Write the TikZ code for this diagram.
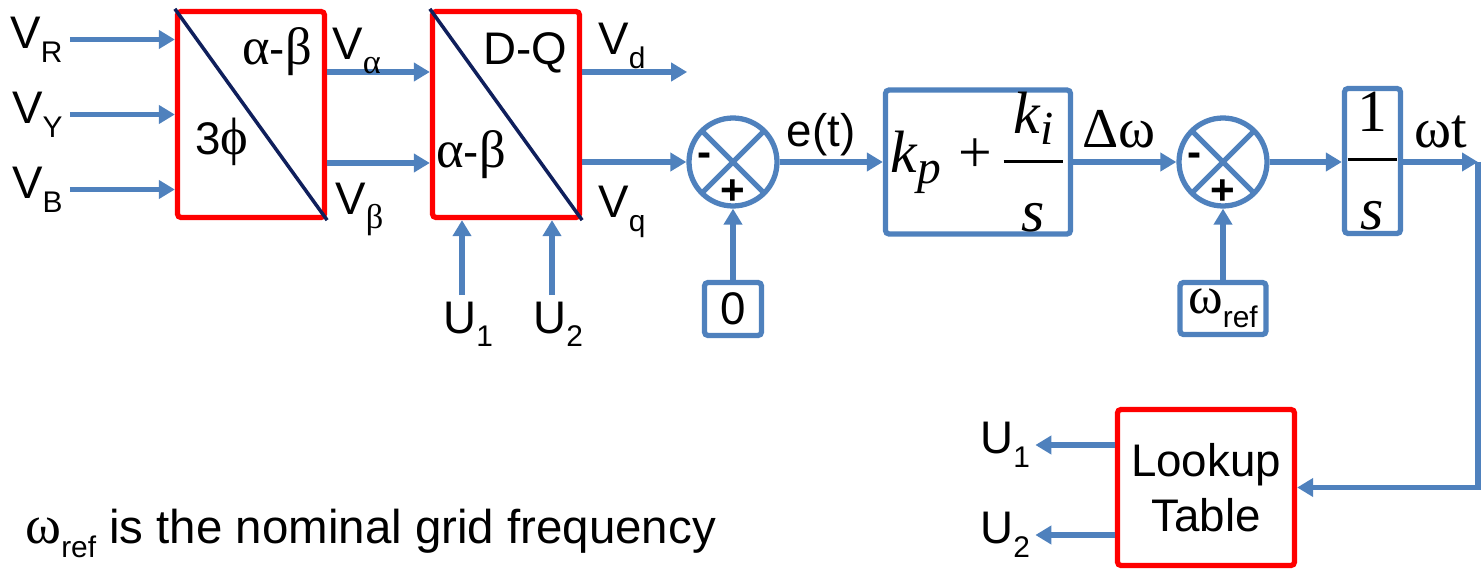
\documentclass[tikz,border=0pt]{standalone}
\usepackage{fontspec}
\setmainfont{Liberation Sans}
\newfontfamily\grk[Scale=1.15]{Liberation Serif}
\newfontfamily\mathserif{Liberation Serif}
\usetikzlibrary{arrows.meta,positioning,calc}
\definecolor{flowblue}{HTML}{4F81BD}
\definecolor{blockred}{HTML}{FF0000}
\definecolor{diagnavy}{HTML}{0F1F5C}
\newcommand\lowsub[1]{\raisebox{-0.3em}{\fontsize{17}{17}\selectfont #1}}
\newcommand\mathsub[1]{\raisebox{-0.18em}{\fontsize{27}{27}\selectfont\itshape #1}}
\newcommand\numer[1]{\mbox{\mathserif #1\rule[-0.3em]{0pt}{0pt}}}
\newcommand\denom[1]{\mbox{\mathserif\rule{0pt}{1.0em}#1}}
\newcommand\thickfrac[2]{$\displaystyle{\numer{#1}\above 1.6pt\denom{#2}}$}
\tikzset{
  blockbox/.style={draw=blockred, line width=3pt, rounded corners=2pt, align=center, inner sep=0pt, minimum width=2.94cm, minimum height=4.12cm},
  ctrlbox/.style={draw=flowblue, line width=3pt, rounded corners=2pt, align=center, inner sep=0pt},
  sumnode/.style={draw=flowblue, line width=3pt, circle, inner sep=0pt, minimum size=1.76cm},
  flow/.style={-{Triangle[length=0.32cm,width=0.36cm]}, draw=flowblue, line width=3pt},
  wire/.style={draw=flowblue, line width=3pt},
  diag/.style={draw=diagnavy, line width=2pt},
  lbl/.style={font=\fontsize{26}{31}\selectfont, inner sep=0pt},
  biglbl/.style={font=\fontsize{32}{36}\selectfont\mathserif, inner sep=0pt},
  mathtxt/.style={font=\fontsize{34}{38}\selectfont\mathserif},
  sign/.style={font=\fontsize{24}{24}\selectfont\bfseries, inner sep=0pt}
}
\begin{document}
\begin{tikzpicture}
  \useasboundingbox (0,0) rectangle (29.68,-11.44);

  % abc -> alpha-beta -> d-q
  \node[blockbox] (tri1) at (5.02,-2.29) {};
  \node[blockbox] (tri2) at (10.12,-2.29) {};
  \draw[diag] (tri1.north west) -- (tri1.south east);
  \draw[diag] (tri2.north west) -- (tri2.south east);
  \node[lbl, anchor=base] (ab1) at (5.54,-1.3) {{\grk α}-{\grk β}};
  \node[lbl, anchor=base] (ph) at (4.44,-3.1) {3{\grk ϕ}};
  \node[lbl, anchor=base] (dq) at (10.5,-1.3) {D-Q};
  \node[lbl, anchor=base] (ab2) at (9.42,-3.36) {{\grk α}-{\grk β}};

  \foreach \ph/\dy in {R/1.5, Y/0, B/-1.5} {
    \coordinate (in\ph) at ($(tri1.west)+(-2.1,\dy)$);
    \draw[flow] (in\ph) -- ($(tri1.west)+(0,\dy)$);
    \node[lbl, left=0.14cm of in\ph] (v\ph) {V\lowsub{\ph}};
  }

  \draw[flow] ($(tri1.east)+(0,0.85)$) -- ($(tri2.west)+(0,0.85)$);
  \draw[flow] ($(tri1.east)+(0,-0.97)$) -- ($(tri2.west)+(0,-0.97)$);
  \node[lbl, anchor=base west] (valpha) at (6.64,-1.2) {V\lowsub{\grk α}};
  \node[lbl, anchor=base west] (vbeta) at (6.7,-4.3) {V\lowsub{\grk β}};

  \foreach \u/\dx in {1/-0.88, 2/0.92} {
    \coordinate (uin\u) at ($(tri2.south)+(\dx,-1.5)$);
    \draw[flow] (uin\u) -- ($(tri2.south)+(\dx,0)$);
    \node[lbl, anchor=base west] (ui\u) at ($(uin\u)+(-0.38,-0.76)$) {U\lowsub{\u}};
  }

  % phase detector and PI
  \node[sumnode] (sum1) at (14.66,-3.24) {};
  \draw[wire, shorten <=1.5pt, shorten >=1.5pt] (sum1.north west) -- (sum1.south east);
  \draw[wire, shorten <=1.5pt, shorten >=1.5pt] (sum1.north east) -- (sum1.south west);
  \node[sign] (m1) at ($(sum1)+(-0.56,0.04)$) {-};
  \node[sign] (p1) at ($(sum1)+(0,-0.6)$) {+};

  \coordinate (vdout) at ($(tri2.east)+(2.1,0.85)$);
  \draw[flow] ($(tri2.east)+(0,0.85)$) -- (vdout);
  \draw[flow] (tri2.east |- sum1) -- (sum1.west);
  \node[lbl, anchor=base west] (vd) at (11.96,-1.1) {V\lowsub{d}};
  \node[lbl, anchor=base west] (vq) at (11.96,-4.36) {V\lowsub{q}};

  \node[ctrlbox, lbl, minimum width=1.14cm, minimum height=1.06cm] (zero) at (14.66,-6.18) {0};
  \draw[flow] (zero) -- (sum1);

  \node[ctrlbox, mathtxt, minimum width=3.7cm, minimum height=2.88cm] (pi) at (19.56,-3.24)
    {\itshape k\mathsub{p}\hspace{0.3em}\upshape+\hspace{0.15em}\thickfrac{\itshape\,k\mathsub{i}\,}{\itshape s}};
  \draw[flow] (sum1) -- (pi);
  \node[lbl, anchor=base] (err) at (16.42,-2.94) {e(t)};

  % frequency correction and integrator
  \node[sumnode] (sum2) at (24.46,-3.24) {};
  \draw[wire, shorten <=1.5pt, shorten >=1.5pt] (sum2.north west) -- (sum2.south east);
  \draw[wire, shorten <=1.5pt, shorten >=1.5pt] (sum2.north east) -- (sum2.south west);
  \node[sign] (m2) at ($(sum2)+(-0.56,0.04)$) {-};
  \node[sign] (p2) at ($(sum2)+(0,-0.6)$) {+};
  \draw[flow] (pi) -- (sum2);
  \node[biglbl, anchor=base] (dw) at (22.38,-2.96) {Δω};

  \node[ctrlbox, lbl, minimum width=1.72cm, minimum height=1.04cm] (wref) at (24.46,-6.17) {{\grk ω}\lowsub{ref}};
  \draw[flow] (wref) -- (sum2);

  \node[ctrlbox, mathtxt, minimum width=1.12cm, minimum height=2.9cm] (integ) at (27.45,-3.22)
    {\thickfrac{\,1\,}{\itshape s}};
  \draw[flow] (sum2) -- (sum2 -| integ.west);
  \node[biglbl, anchor=base] (wt) at (28.82,-2.96) {ωt};

  % lookup table feedback
  \node[blockbox, lbl, minimum width=3.54cm, minimum height=3.12cm] (lut) at (24.12,-9.75) {Lookup\\Table};
  \coordinate (bend) at (29.56,-3.24);
  \draw[flow] (integ.east |- sum2) -- (bend);
  \draw[flow] (bend) -- (bend |- lut.east) -- (lut.east);

  \foreach \u/\dy in {1/0.85, 2/-0.95} {
    \coordinate (uout\u) at ($(lut.west)+(-1.59,\dy)$);
    \draw[flow] ($(lut.west)+(0,\dy)$) -- (uout\u);
    \node[lbl, left=0.1cm of uout\u] (uo\u) {U\lowsub{\u}};
  }

  \node[lbl, font=\fontsize{27}{31}\selectfont, anchor=base west] (note) at (0.5,-10.86) {{\grk ω}\lowsub{ref} is the nominal grid frequency};
\end{tikzpicture}
\end{document}
